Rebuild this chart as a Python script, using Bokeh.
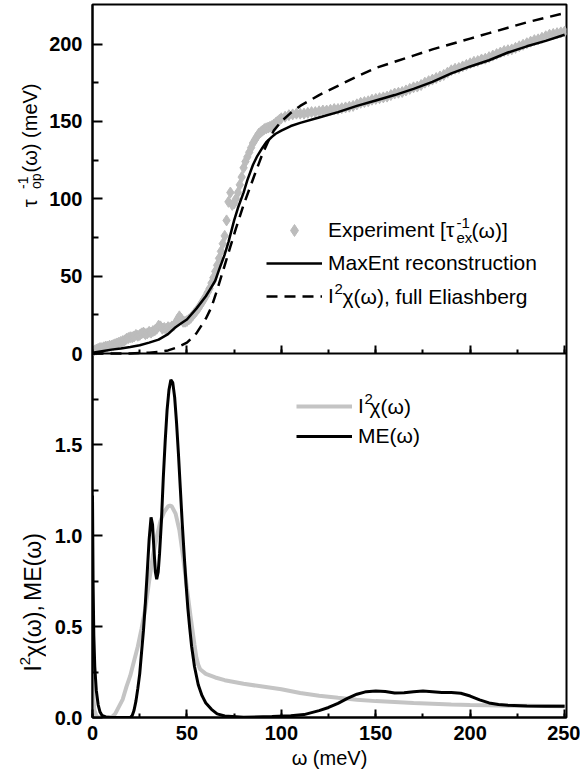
import math
from bokeh.plotting import figure
from bokeh.models import (Range1d, SingleIntervalTicker, FixedTicker, Legend,
                          LegendItem, Label, LinearAxis, CustomJSTickFormatter)
from bokeh.layouts import row
from bokeh.embed import file_html
from bokeh.resources import INLINE
from bokeh.core.properties import value

# ---------------- data ----------------
# top panel: experiment tau_ex^-1 (meV)
omega_ex_lo = list(range(0, 100))
tau_ex_lo = [1.5, 2, 2.5, 3, 3.5, 3.5, 4, 4.5, 4.5, 5,
             5, 5.5, 6, 6.5, 7, 7.5, 8, 8.5, 9.5, 10,
             10.5, 10.5, 11, 12, 11.5, 12, 13, 13.5, 12.5, 13,
             14, 13.5, 14.5, 15, 16, 18, 17.5, 16, 16.5, 16,
             17, 16.5, 17.5, 18, 19.5, 22, 24, 22.5, 20.5, 20.5,
             21, 22, 23, 24.5, 26, 27.5, 29, 31, 33, 35,
             37, 39.5, 42, 45.5, 49, 53, 57, 61.5, 66, 71,
             76, 86, 98, 104, 96, 97, 100, 104, 109, 114,
             120, 124, 127, 130, 133, 136, 138, 140, 142, 143,
             144, 145, 145.5, 146, 146.5, 147, 148, 149, 150, 151]
omega_ex_hi = list(range(100, 251, 2))
tau_ex_hi = [152, 153, 154, 154.5, 155, 155, 155, 155.5, 156, 156,
             156.5, 157, 157, 157.5, 158, 158, 158.5, 159, 159.5, 160,
             161, 162, 162.5, 163, 164, 164.5, 165, 165.5, 166, 167,
             168, 168.5, 169, 170, 171, 172, 172.5, 173.5, 175, 176,
             177, 178, 179, 180, 181.5, 183, 184, 184.5, 185.5, 186.5,
             187.5, 188.5, 189, 190, 190.5, 191.5, 192.5, 193.5, 194.5, 195.5,
             196, 196.5, 197.5, 198.5, 199.5, 200.5, 201.5, 202.5, 203, 204,
             205, 206, 206.5, 207, 207.5, 208]
omega_ex = omega_ex_lo + omega_ex_hi
tau_ex = tau_ex_lo + tau_ex_hi

# top panel: MaxEnt reconstruction
omega_me_top = [0, 5, 10, 15, 20, 25, 30, 35, 40, 44, 47, 50, 55, 60, 62, 65, 67, 70,
                72, 75, 77, 80, 82, 85, 87, 90, 92, 95, 97, 100, 105, 110, 120, 130,
                140, 150, 160, 170, 180, 190, 200, 210, 220, 230, 240, 250]
tau_me_top = [0.5, 1.5, 2.5, 3.3, 4.2, 5.3, 7, 9, 12.5, 17, 19.5, 22, 29, 37, 41, 47, 54, 64,
              72, 86, 94, 104, 112, 122, 127, 133, 136.5, 140, 142, 144, 147, 149, 152.5, 156,
              160, 163.5, 167, 171, 175.5, 181, 185.5, 189.5, 194.5, 198.5, 202, 206]

# top panel: I^2chi, full Eliashberg
omega_el = [0, 20, 30, 35, 40, 45, 50, 55, 60, 63, 66, 70, 73, 76, 80, 83, 86, 90, 93, 96,
            100, 105, 110, 120, 130, 140, 150, 160, 170, 180, 190, 200, 210, 220, 230, 240, 250]
tau_el = [0, 0, 0.5, 1, 2, 4, 7, 13, 22.5, 30, 41, 57, 69, 81, 96, 106, 116, 129, 137, 144,
          150, 155.5, 160, 167, 173, 179, 184.5, 188.5, 192.5, 196.5, 200, 203.5, 207, 210.5,
          214, 217, 220]

# bottom panel: I^2chi(omega)
omega_i2 = [0, 0.5, 1, 2, 3, 10, 12, 14, 16, 18, 20, 22, 24, 26, 28, 30, 32, 34, 36, 38,
            40, 41, 42, 44, 46, 48, 50, 52, 54, 55, 56, 57, 60, 65, 70, 80, 90, 100, 110,
            120, 130, 140, 150, 160, 170, 180, 190, 200, 210, 220, 230, 240, 250]
i2chi = [0.25, 0.1, 0.04, 0.01, 0, 0, 0.02, 0.06, 0.1, 0.17, 0.23, 0.31, 0.39, 0.49, 0.60,
         0.75, 0.89, 0.99, 1.08, 1.13, 1.16, 1.165, 1.16, 1.12, 1.03, 0.88, 0.71, 0.55, 0.40,
         0.33, 0.29, 0.265, 0.24, 0.22, 0.205, 0.185, 0.17, 0.155, 0.135, 0.12, 0.108, 0.098,
         0.09, 0.085, 0.08, 0.076, 0.072, 0.069, 0.067, 0.065, 0.064, 0.063, 0.062]

# bottom panel: ME(omega)
omega_me = [0, 0.3, 0.7, 1.2, 2, 3, 4, 5, 7, 10, 20, 21, 22, 23, 24, 25, 26, 27, 28, 29,
            30, 31, 31.8, 32.5, 33.3, 34, 34.8, 35.5, 36.5, 37.5, 38.5, 39.5, 40.5, 41.5,
            42.5, 43.5, 44.5, 45.5, 46.5, 47.5, 48.5, 49.5, 50.5, 51.5, 52.5, 54, 56, 58,
            60, 63, 66, 70, 80, 95, 105, 112, 120, 125, 130, 135, 140, 145, 150, 155, 160,
            165, 170, 175, 180, 185, 190, 195, 200, 205, 210, 215, 220, 230, 240, 250]
me = [1.22, 0.75, 0.45, 0.28, 0.15, 0.07, 0.03, 0.012, 0.003, 0, 0, 0.01, 0.04, 0.09, 0.16,
      0.24, 0.36, 0.48, 0.63, 0.80, 0.98, 1.10, 1.06, 0.93, 0.80, 0.76, 0.80, 0.90, 1.08,
      1.32, 1.52, 1.69, 1.80, 1.855, 1.84, 1.76, 1.62, 1.45, 1.26, 1.07, 0.90, 0.74, 0.60,
      0.49, 0.39, 0.28, 0.18, 0.12, 0.08, 0.045, 0.02, 0.008, 0.002, 0.005, 0.01, 0.016,
      0.038, 0.055, 0.078, 0.105, 0.128, 0.142, 0.146, 0.143, 0.135, 0.136, 0.142, 0.145,
      0.142, 0.137, 0.137, 0.133, 0.118, 0.097, 0.08, 0.072, 0.067, 0.063, 0.062, 0.062]

# tick values
top_ticks = [0, 50, 100, 150, 200]
top_minor = [25, 75, 125, 175]
bot_ticks = [0.0, 0.5, 1.0, 1.5]
bot_minor = [0.25, 0.75, 1.25, 1.75]

# ---------------- layout constants (page pixels) ----------------
FONT = "Liberation Sans"
SIDE_W = 46
FRAME_L, FRAME_T, FRAME_B = 92, 4, 717
SEP = 353                     # page y of the shared border
X_END = 251.0
FW = 474
FH = FRAME_B - FRAME_T
PX_X = FW / X_END
PX_B = 182.0                  # px per unit, bottom panel
PX_T = 1.5475                 # px per meV, top panel
Y_TOP = FH / PX_B
SEP_Y = (FRAME_B - SEP) / PX_B           # = 2.0
TAU_START = -(FRAME_B - SEP) / PX_T
TAU_END = (SEP - FRAME_T) / PX_T
TOTAL_H = 777


def dx(px):
    return (px - FRAME_L) / PX_X


def dy(py):
    return (FRAME_B - py) / PX_B


def t2y(t):
    return SEP_Y + t * PX_T / PX_B


def label(p, px, py, text, size):
    p.add_layout(Label(x=dx(px), y=dy(py), text=text, text_font=FONT,
                       text_font_size=f"{size}px", text_color="black",
                       text_align="left", text_baseline="middle"))


def style_axis(ax, tick_in, minor_in):
    ax.axis_line_color = "black"
    ax.axis_line_width = 2
    ax.major_tick_line_color = "black"
    ax.major_tick_line_width = 2
    ax.minor_tick_line_color = "black"
    ax.minor_tick_line_width = 2
    ax.major_tick_in = tick_in
    ax.major_tick_out = 0
    ax.minor_tick_in = minor_in
    ax.minor_tick_out = 0
    ax.major_label_text_font = FONT
    ax.major_label_text_font_size = "20px"
    ax.major_label_text_font_style = "bold"
    ax.major_label_text_color = "black"
    ax.axis_label_text_font = FONT
    ax.axis_label_text_font_size = "20px"
    ax.axis_label_text_font_style = "normal"
    ax.axis_label_text_color = "black"


# ---------------- main figure (both panels) ----------------
p = figure(frame_width=FW, frame_height=FH,
           x_range=Range1d(0, X_END), y_range=Range1d(0, Y_TOP),
           output_backend="svg", toolbar_location=None,
           min_border_left=FRAME_L - SIDE_W, min_border_right=14,
           min_border_top=FRAME_T, min_border_bottom=TOTAL_H - FRAME_B)
p.extra_y_ranges = {"tau": Range1d(TAU_START, TAU_END)}
p.grid.visible = False
p.outline_line_color = "black"
p.outline_line_width = 2
p.background_fill_color = "white"
p.border_fill_color = "white"

# top panel glyphs
r_ex = p.scatter(omega_ex, tau_ex, y_range_name="tau", marker="diamond", size=11,
                 fill_color="#bcbcbc", line_color="#bcbcbc", line_width=1)
r_me = p.line(omega_me_top, tau_me_top, y_range_name="tau",
              line_color="black", line_width=2.5)
r_el = p.line(omega_el, tau_el, y_range_name="tau", line_color="black",
              line_width=2.5, line_dash="11 7")
# bottom panel glyphs
g_i2 = p.line(omega_i2, i2chi, line_color="#c4c4c4", line_width=4)
g_me = p.line(omega_me, me, line_color="black", line_width=3)

# axes
style_axis(p.xaxis[0], 8, 4)
p.xaxis[0].ticker = SingleIntervalTicker(interval=50, num_minor_ticks=2)
p.xaxis[0].major_label_standoff = 8
p.xaxis[0].axis_label = "ω (meV)"
p.xaxis[0].axis_label_standoff = 4

yax = p.yaxis[0]
style_axis(yax, 10, 6)
yax.ticker = FixedTicker(ticks=bot_ticks + [t2y(t) for t in top_ticks],
                         minor_ticks=bot_minor + [t2y(t) for t in top_minor])
yax.formatter = CustomJSTickFormatter(
    args=dict(sep=SEP_Y, s=PX_B / PX_T),
    code="if (tick < sep - 0.01) { return tick.toFixed(1); } "
         "return Math.round((tick - sep) * s).toString();")
yax.major_label_standoff = 10

sep_axis = LinearAxis(fixed_location=SEP_Y,
                      ticker=SingleIntervalTicker(interval=50, num_minor_ticks=2),
                      formatter=CustomJSTickFormatter(code="return '';"))
style_axis(sep_axis, 8, 4)
sep_axis.major_label_standoff = 0
p.add_layout(sep_axis, "below")

# legends
leg1 = Legend(items=[LegendItem(label="Experiment [τ", renderers=[r_ex]),
                     LegendItem(label="MaxEnt reconstruction", renderers=[r_me]),
                     LegendItem(label="I", renderers=[r_el])],
              location=(174, FRAME_B - 311), glyph_width=56, glyph_height=30,
              label_height=30, label_standoff=6, spacing=3, padding=0, margin=0,
              border_line_color=None, background_fill_alpha=0,
              label_text_font=FONT, label_text_font_size="21px",
              label_text_color="black")
p.add_layout(leg1)
label(p, 456, 237, "ex", 15)
label(p, 456, 222, "-1", 15)
label(p, 471, 230, "(ω)]", 21)
label(p, 334, 288, "2", 15)
label(p, 342, 296, "χ(ω), full Eliashberg", 21)

leg2 = Legend(items=[LegendItem(label="I", renderers=[g_i2]),
                     LegendItem(label="ME(ω)", renderers=[g_me])],
              location=(204, FRAME_B - 450), glyph_width=56, glyph_height=28,
              label_height=28, label_standoff=6, spacing=2, padding=0, margin=0,
              border_line_color=None, background_fill_alpha=0,
              label_text_font=FONT, label_text_font_size="21px",
              label_text_color="black")
p.add_layout(leg2)
label(p, 364, 398, "2", 15)
label(p, 369, 406, "χ(ω)", 21)

# ---------------- side strip with the rotated axis titles ----------------
side = figure(width=SIDE_W, height=TOTAL_H, x_range=Range1d(0, SIDE_W),
              y_range=Range1d(TOTAL_H, 0), output_backend="svg",
              toolbar_location=None, min_border=0,
              x_axis_location=None, y_axis_location=None)
side.grid.visible = False
side.outline_line_color = None
side.background_fill_color = "white"
side.border_fill_color = "white"
A = math.pi / 2


def title_piece(x, y, text, size):
    side.text(x=[x], y=[y], text=[text], angle=A, text_font=value(FONT),
              text_font_size=value(f"{size}px"), text_color="black",
              text_align="left", text_baseline="middle")


title_piece(29, 221, "τ", 20)
title_piece(35, 201, "op", 14)
title_piece(22, 201, "-1", 14)
title_piece(29, 183, "(ω) (meV)", 20)

title_piece(32, 727, "I", 23)
title_piece(24, 720, "2", 15)
title_piece(32, 711, "χ(ω),", 23)
title_piece(32, 650, "ME(ω)", 23)

layout = row(side, p, spacing=0)
open("out.html", "w").write(file_html(layout, INLINE))
